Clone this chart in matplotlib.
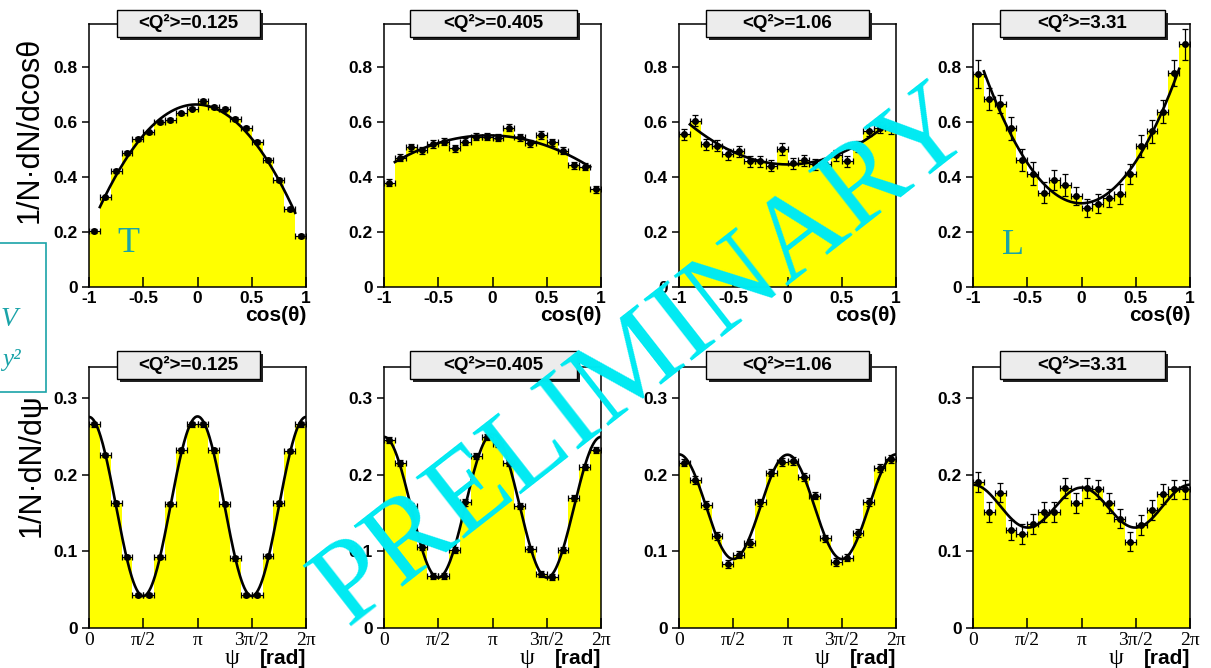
import numpy as np
import matplotlib.pyplot as plt
from matplotlib.patches import Rectangle
from matplotlib import transforms

# <Q^2> bins, one column each
q2_labels = ["0.125", "0.405", "1.06", "3.31"]

# 1/N dN/dcos(theta), 20 bins from -1 to 1
cos_q1 = [0.202, 0.325, 0.421, 0.488, 0.536, 0.561, 0.598, 0.606, 0.630, 0.648,
          0.675, 0.655, 0.648, 0.610, 0.578, 0.527, 0.461, 0.388, 0.282, 0.184]
cos_q2 = [0.379, 0.469, 0.507, 0.497, 0.519, 0.527, 0.503, 0.527, 0.545, 0.545,
          0.542, 0.579, 0.543, 0.521, 0.552, 0.525, 0.495, 0.442, 0.436, 0.354]
cos_q3 = [0.554, 0.604, 0.519, 0.513, 0.482, 0.493, 0.457, 0.457, 0.441, 0.501,
          0.450, 0.461, 0.446, 0.448, 0.479, 0.457, 0.510, 0.567, 0.578, 0.576]
cos_q4 = [0.773, 0.681, 0.663, 0.576, 0.461, 0.412, 0.342, 0.388, 0.370, 0.330,
          0.288, 0.303, 0.324, 0.339, 0.410, 0.512, 0.566, 0.636, 0.778, 0.881]
cos_err_q4 = [0.052, 0.040, 0.033, 0.042, 0.040, 0.040, 0.038, 0.036, 0.039, 0.033,
              0.033, 0.033, 0.033, 0.036, 0.036, 0.040, 0.042, 0.042, 0.048, 0.055]
cos_errs = [0.007, 0.013, 0.020, cos_err_q4]

# 1/N dN/dpsi, 20 bins from 0 to 2pi
psi_q1 = [0.266, 0.226, 0.163, 0.093, 0.043, 0.043, 0.093, 0.162, 0.232, 0.266,
          0.266, 0.232, 0.162, 0.091, 0.043, 0.043, 0.094, 0.163, 0.231, 0.266]
psi_q2 = [0.246, 0.216, 0.159, 0.106, 0.068, 0.068, 0.102, 0.164, 0.225, 0.249,
          0.241, 0.216, 0.159, 0.103, 0.070, 0.067, 0.102, 0.170, 0.210, 0.233]
psi_q3 = [0.216, 0.193, 0.161, 0.120, 0.084, 0.096, 0.111, 0.164, 0.203, 0.217,
          0.218, 0.197, 0.173, 0.117, 0.086, 0.092, 0.124, 0.165, 0.209, 0.221]
psi_q4 = [0.191, 0.151, 0.177, 0.128, 0.123, 0.136, 0.152, 0.152, 0.183, 0.163,
          0.183, 0.181, 0.163, 0.143, 0.113, 0.135, 0.154, 0.175, 0.181, 0.181]
psi_errs = [0.003, 0.004, 0.005, 0.013]

cos_data = [cos_q1, cos_q2, cos_q3, cos_q4]
psi_data = [psi_q1, psi_q2, psi_q3, psi_q4]

cos_edges = np.linspace(-1, 1, 21)
psi_edges = np.linspace(0, 2 * np.pi, 21)

YELLOW = "#ffff00"
TEAL = "#1aa3a8"
SANS = "Liberation Sans"
SERIF = "Liberation Serif"
TICK_FS = 12.5

fig = plt.figure(figsize=(12.11, 6.68), dpi=100)

lefts = [0.0735, 0.3171, 0.5607, 0.8035]
width = 0.1792
box_x = [(0.129, 0.788), (0.12, 0.889), (0.125, 0.875), (0.124, 0.885)]


def title_box(ax, x0, x1, y0, y1, text):
    shadow = transforms.offset_copy(ax.transAxes, fig=fig, x=3, y=-3, units="dots")
    ax.add_patch(Rectangle((x0, y0), x1 - x0, y1 - y0, transform=shadow,
                           facecolor="#222222", edgecolor="none", clip_on=False, zorder=5))
    ax.add_patch(Rectangle((x0, y0), x1 - x0, y1 - y0, transform=ax.transAxes,
                           facecolor="#ececec", edgecolor="black", lw=1.0,
                           clip_on=False, zorder=6))
    ax.text((x0 + x1) / 2, (y0 + y1) / 2, text, transform=ax.transAxes,
            ha="center", va="center", fontsize=13.5, fontweight="bold",
            family=SANS, zorder=7)


def style_axes(ax):
    for s in ax.spines.values():
        s.set_linewidth(1.1)
    ax.tick_params(axis="x", direction="in", length=7, width=1.1, pad=3)
    ax.tick_params(axis="y", direction="out", length=5, width=1.1, pad=3)
    for lab in ax.get_yticklabels():
        lab.set_fontweight("bold")
        lab.set_family(SANS)
        lab.set_fontsize(TICK_FS)


for i in range(4):
    # top row: cos(theta)
    ax = fig.add_axes([lefts[i], 0.5704, width, 0.3937])
    vals = np.array(cos_data[i])
    err = np.broadcast_to(np.array(cos_errs[i], dtype=float), vals.shape)
    centers = 0.5 * (cos_edges[:-1] + cos_edges[1:])
    ax.stairs(vals, cos_edges, fill=True, color=YELLOW, lw=0)
    ax.errorbar(centers, vals, xerr=0.05, yerr=err, fmt="o", color="black",
                ms=4, elinewidth=0.9, capsize=2, capthick=0.9, zorder=3)
    inner = slice(1, -1)
    coef = np.polyfit(centers[inner], vals[inner], 2, w=1 / err[inner])
    xs = np.linspace(-0.9, 0.9, 200)
    ax.plot(xs, np.polyval(coef, xs), color="black", lw=1.9, zorder=4)
    ax.set_xlim(-1, 1)
    ax.set_ylim(0, 0.955)
    ax.set_xticks([-1, -0.5, 0, 0.5, 1])
    ax.set_xticklabels(["-1", "-0.5", "0", "0.5", "1"], fontweight="bold",
                       family=SANS, fontsize=TICK_FS)
    ax.set_yticks([0, 0.2, 0.4, 0.6, 0.8])
    ax.set_yticklabels(["0", "0.2", "0.4", "0.6", "0.8"])
    style_axes(ax)
    ax.text(1.0, -0.11, "cos(θ)", transform=ax.transAxes, ha="right", va="center",
            fontsize=15, fontweight="bold", family=SANS)
    title_box(ax, box_x[i][0], box_x[i][1], 0.951, 1.053, f"<Q²>={q2_labels[i]}")

    # bottom row: psi
    ax = fig.add_axes([lefts[i], 0.0599, width, 0.3907])
    vals = np.array(psi_data[i])
    err = np.broadcast_to(np.array(psi_errs[i], dtype=float), vals.shape)
    centers = 0.5 * (psi_edges[:-1] + psi_edges[1:])
    half = 0.5 * (psi_edges[1] - psi_edges[0])
    ax.stairs(vals, psi_edges, fill=True, color=YELLOW, lw=0)
    ax.errorbar(centers, vals, xerr=half, yerr=err, fmt="o", color="black",
                ms=4, elinewidth=0.9, capsize=2, capthick=0.9, zorder=3)
    basis = np.column_stack([np.ones_like(centers), np.cos(centers), np.cos(2 * centers)])
    c, *_ = np.linalg.lstsq(basis / err[:, None], vals / err, rcond=None)
    xs = np.linspace(0, 2 * np.pi, 300)
    ax.plot(xs, c[0] + c[1] * np.cos(xs) + c[2] * np.cos(2 * xs),
            color="black", lw=1.9, zorder=4)
    ax.set_xlim(0, 2 * np.pi)
    ax.set_ylim(0, 0.341)
    ax.set_xticks([0, np.pi / 2, np.pi, 3 * np.pi / 2, 2 * np.pi])
    ax.set_xticklabels(["0", "π/2", "π", "3π/2", "2π"], family=SERIF, fontsize=14)
    ax.set_yticks([0, 0.1, 0.2, 0.3])
    ax.set_yticklabels(["0", "0.1", "0.2", "0.3"])
    style_axes(ax)
    ax.text(1.0, -0.115, "[rad]", transform=ax.transAxes, ha="right", va="center",
            fontsize=15, fontweight="bold", family=SANS)
    ax.text(0.695, -0.118, "ψ", transform=ax.transAxes, ha="right", va="center",
            fontsize=17, family=SERIF)
    title_box(ax, box_x[i][0], box_x[i][1], 0.954, 1.061, f"<Q²>={q2_labels[i]}")

# axis titles, placed like the ROOT canvas
fig.text(30 / 1211, 1 - 130 / 668, "1/N·dN/dcosθ", rotation=90, ha="center",
         va="center", fontsize=22, family=SANS)
fig.text(32 / 1211, 1 - 465 / 668, "1/N·dN/dψ", rotation=90, ha="center",
         va="center", fontsize=22, family=SANS)

# T / L labels
fig.text(128 / 1211, 1 - 244 / 668, "T", ha="center", va="center",
         fontsize=26, family=SERIF, color=TEAL)
fig.text(1013 / 1211, 1 - 245 / 668, "L", ha="center", va="center",
         fontsize=26, family=SERIF, color=TEAL)

# cut-off box on the left edge
fig.add_artist(Rectangle((-0.01, 1 - 392 / 668), 0.048, (392 - 243) / 668,
                         transform=fig.transFigure, fill=False,
                         edgecolor=TEAL, lw=1.2))
fig.text(1 / 1211, 1 - 320 / 668, "V", ha="left", va="center",
         fontsize=20, family=SERIF, style="italic", color=TEAL)
fig.text(2 / 1211, 1 - 360 / 668, "y²", ha="left", va="center",
         fontsize=18, family=SERIF, style="italic", color=TEAL)

# watermark
fig.text(645 / 1211, 1 - 358 / 668, "PRELIMINARY", ha="center", va="center",
         rotation=38, rotation_mode="anchor", fontsize=85, family=SERIF,
         color="#00eaf2", zorder=20)

fig.savefig("out.png", dpi=100)
